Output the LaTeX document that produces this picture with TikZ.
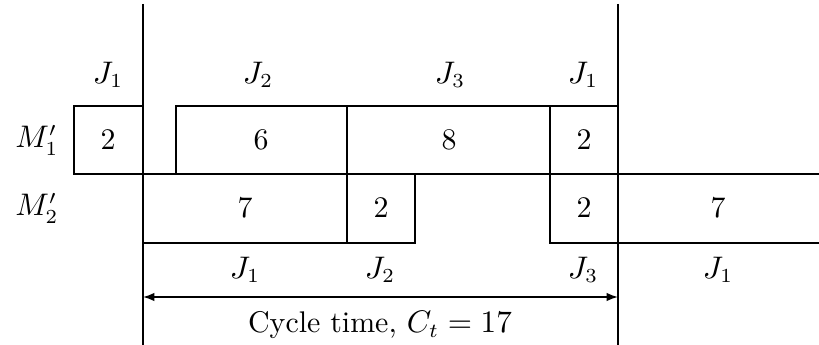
\documentclass[tikz,border=0pt]{standalone}
\usetikzlibrary{arrows.meta}
\begin{document}
\begin{tikzpicture}[x=0.351pt,y=-0.351pt,
  ln/.style={line width=0.8pt},
  lbl/.style={inner sep=0pt,font=\fontsize{10.5}{12}\selectfont}]
\useasboundingbox (0,0) rectangle (819,345);
% main vertical lines
\coordinate (vAt) at (143,4); \coordinate (vAb) at (143,345);
\coordinate (vBt) at (618,4); \coordinate (vBb) at (618,345);
\draw[ln] (vAt) -- (vAb);
\draw[ln] (vBt) -- (vBb);
% machine M1' row
\draw[ln] (74,106) rectangle (143,174);
\draw[ln] (176,106) rectangle (347,174);
\draw[ln] (347,106) rectangle (550,174);
\draw[ln] (550,106) rectangle (618,174);
\draw[ln] (74,174) -- (819,174);
% machine M2' row
\draw[ln] (143,174) rectangle (347,243);
\draw[ln] (347,174) rectangle (415,243);
\draw[ln] (550,174) rectangle (618,243);
\draw[ln] (618,243) -- (819,243);
% labels
\node[lbl] (m1) at (37,140) {$M_1'$};
\node[lbl] (m2) at (37,208) {$M_2'$};
\node[lbl] (t1) at (108,75) {$J_1$};
\node[lbl] (t2) at (258,75) {$J_2$};
\node[lbl] (t3) at (450,75) {$J_3$};
\node[lbl] (t4) at (583,75) {$J_1$};
\node[lbl] (a1) at (108,140) {2};
\node[lbl] (a2) at (261,140) {6};
\node[lbl] (a3) at (449,140) {8};
\node[lbl] (a4) at (584,140) {2};
\node[lbl] (b1) at (245,208) {7};
\node[lbl] (b2) at (381,208) {2};
\node[lbl] (b3) at (584,208) {2};
\node[lbl] (b4) at (718,208) {7};
\node[lbl] (u1) at (245,270) {$J_1$};
\node[lbl] (u2) at (380,270) {$J_2$};
\node[lbl] (u3) at (583,270) {$J_3$};
\node[lbl] (u4) at (718,270) {$J_1$};
% cycle time arrow
\coordinate (cA) at (143,297);
\coordinate (cB) at (618,297);
\draw[ln,line width=0.6pt,{Latex[length=4pt,width=3pt]}-{Latex[length=4pt,width=3pt]}] (cA) -- (cB);
\node[lbl] (ct) at (380,325) {Cycle time, $C_t=17$};
\end{tikzpicture}
\end{document}
